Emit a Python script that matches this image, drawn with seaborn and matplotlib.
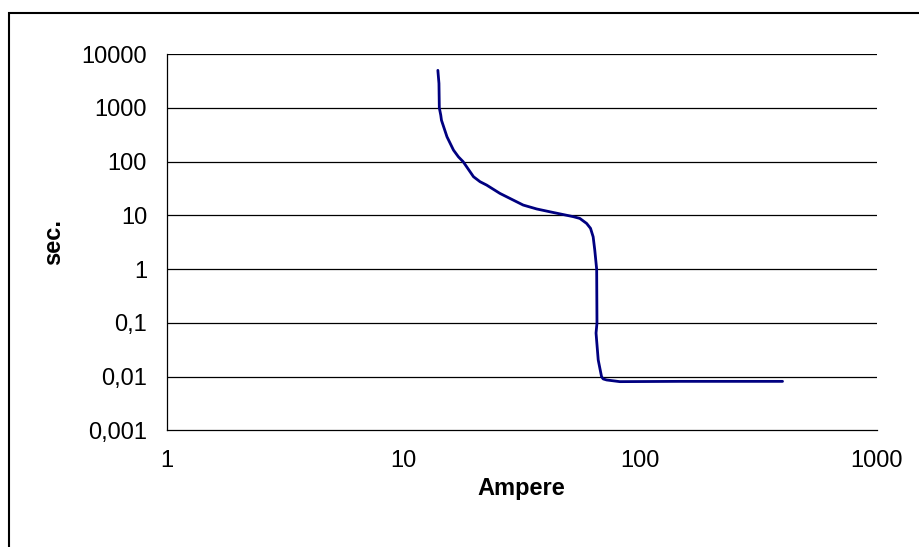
import pandas as pd
import matplotlib
matplotlib.use("Agg")
import matplotlib.pyplot as plt
import seaborn as sns
from matplotlib.patches import Rectangle

# trip curve (Ampere vs. seconds, log-log)
ampere = [14.0, 14.15, 14.2, 14.4, 14.5, 15.3, 16.3, 17.1, 17.9, 19.8, 21.1,
          22.5, 25.6, 32.1, 36.6, 41.6, 52.2, 55.7, 59.5, 61.8, 63.4, 64.4,
          65.6, 65.8, 65.2, 66.6, 68.8, 69.9, 72.3, 82.2, 147, 400]
seconds = [5000, 2850, 1000, 735, 590, 290, 164, 123, 100, 52.5, 42.4,
           36.7, 25.7, 15.6, 13.2, 11.7, 9.5, 8.8, 7.1, 5.75, 4.0, 2.27,
           1.0, 0.1, 0.065, 0.0205, 0.010, 0.0091, 0.0087, 0.0081,
           0.0082, 0.0082]

y_ticks = [0.001, 0.01, 0.1, 1, 10, 100, 1000, 10000]
y_labels = ["0,001", "0,01", "0,1", "1", "10", "100", "1000", "10000"]
x_ticks = [1, 10, 100, 1000]
x_labels = ["1", "10", "100", "1000"]

sns.set_theme(style="white")
plt.rcParams['font.family'] = ['Liberation Sans', 'DejaVu Sans']

df = pd.DataFrame({"Ampere": ampere, "sec.": seconds})

fig = plt.figure(figsize=(9.2, 5.47), dpi=100)
ax = fig.add_axes([0.181, 0.213, 0.772, 0.688])

sns.lineplot(data=df, x="Ampere", y="sec.", sort=False, estimator=None,
             color="#000080", linewidth=2.0, ax=ax)
ax.lines[0].set_solid_joinstyle("round")

ax.set_xscale("log")
ax.set_yscale("log")
ax.set_xlim(1, 1000)
ax.set_ylim(0.001, 10000)
ax.set_xticks(x_ticks)
ax.set_xticklabels(x_labels)
ax.set_yticks(y_ticks)
ax.set_yticklabels(y_labels)
ax.minorticks_off()

for v in y_ticks[1:]:
    ax.axhline(v, color="black", linewidth=0.9, zorder=0)

ax.tick_params(axis="both", which="major", direction="out", length=5,
               width=0.9, color="black", labelcolor="black", labelsize=17,
               pad=9)
for s in ["top", "right"]:
    ax.spines[s].set_visible(False)
for s in ["left", "bottom"]:
    ax.spines[s].set_color("black")
    ax.spines[s].set_linewidth(0.9)

ax.set_xlabel("Ampere", fontsize=17, fontweight="bold", color="black",
              labelpad=4)
ax.set_ylabel("sec.", fontsize=17, fontweight="bold", color="black",
              labelpad=12)

# outer chart border (only left/top visible in the reference)
fig.patches.append(Rectangle((8.5 / 920, -0.1), 2, 1 - 12.5 / 547 + 0.1,
                             transform=fig.transFigure, fill=False,
                             edgecolor="black", linewidth=1.5))

fig.savefig("out.png", dpi=100)
